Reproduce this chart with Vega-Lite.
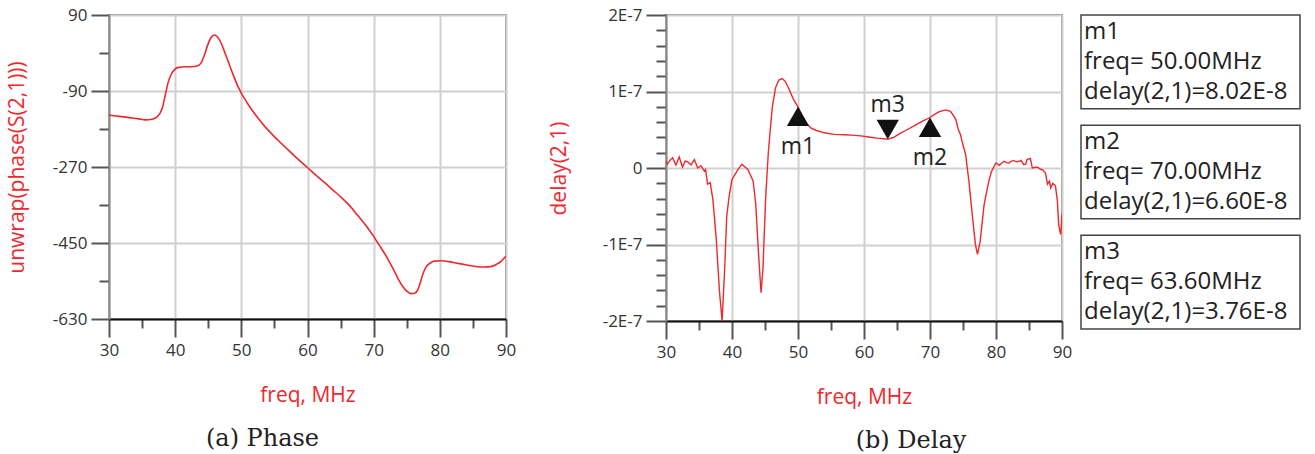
{
  "$schema": "https://vega.github.io/schema/vega-lite/v6.json",
  "background": "white",
  "padding": {"left": 5, "top": 5, "right": 5, "bottom": 5},
  "config": {
    "view": {"stroke": "#8a8a8a", "strokeWidth": 2},
    "font": "Open Sans",
    "axis": {
      "labelFont": "Open Sans", "labelColor": "#333", "labelFlush": false, "labelOverlap": false,
      "titleFont": "Open Sans", "titleFontWeight": "normal", "titleColor": "#f0282d", "titleFontSize": 21,
      "tickColor": "#555", "tickWidth": 2, "gridColor": "#d0d0d0", "gridWidth": 2
    }
  },
  "datasets": {
    "phase": [
      {"freq": 30, "phase": -147.5}, {"freq": 31.5, "phase": -150}, {"freq": 33, "phase": -153}, {"freq": 34.5, "phase": -156},
      {"freq": 35.5, "phase": -158.5}, {"freq": 36.5, "phase": -157}, {"freq": 37.2, "phase": -152}, {"freq": 37.7, "phase": -143},
      {"freq": 38.1, "phase": -128}, {"freq": 38.5, "phase": -100}, {"freq": 38.9, "phase": -72}, {"freq": 39.3, "phase": -54},
      {"freq": 39.8, "phase": -41}, {"freq": 40.5, "phase": -34}, {"freq": 41.5, "phase": -32.5}, {"freq": 42.5, "phase": -32.5},
      {"freq": 43.3, "phase": -31}, {"freq": 43.9, "phase": -24}, {"freq": 44.4, "phase": -6}, {"freq": 44.9, "phase": 18},
      {"freq": 45.4, "phase": 36}, {"freq": 45.9, "phase": 42.5}, {"freq": 46.4, "phase": 38}, {"freq": 47.0, "phase": 22},
      {"freq": 47.6, "phase": -3}, {"freq": 48.2, "phase": -28}, {"freq": 48.8, "phase": -53}, {"freq": 49.4, "phase": -76},
      {"freq": 50.1, "phase": -98}, {"freq": 50.8, "phase": -116}, {"freq": 51.6, "phase": -135}, {"freq": 52.6, "phase": -156},
      {"freq": 53.6, "phase": -175}, {"freq": 54.8, "phase": -195}, {"freq": 56.1, "phase": -215}, {"freq": 57.3, "phase": -233},
      {"freq": 58.6, "phase": -252}, {"freq": 60.1, "phase": -273}, {"freq": 61.3, "phase": -290}, {"freq": 62.6, "phase": -307},
      {"freq": 63.8, "phase": -324}, {"freq": 65.1, "phase": -342}, {"freq": 66.4, "phase": -362}, {"freq": 67.6, "phase": -385},
      {"freq": 68.8, "phase": -408}, {"freq": 69.9, "phase": -432}, {"freq": 70.8, "phase": -454}, {"freq": 71.7, "phase": -476},
      {"freq": 72.5, "phase": -498}, {"freq": 73.2, "phase": -519}, {"freq": 73.8, "phase": -538}, {"freq": 74.4, "phase": -553},
      {"freq": 75.0, "phase": -564}, {"freq": 75.7, "phase": -570}, {"freq": 76.2, "phase": -569}, {"freq": 76.7, "phase": -560},
      {"freq": 77.1, "phase": -541}, {"freq": 77.5, "phase": -521}, {"freq": 77.9, "phase": -507}, {"freq": 78.5, "phase": -498},
      {"freq": 79.2, "phase": -493}, {"freq": 80.2, "phase": -492}, {"freq": 82, "phase": -496}, {"freq": 83.7, "phase": -501},
      {"freq": 85.2, "phase": -505}, {"freq": 86.7, "phase": -507}, {"freq": 87.7, "phase": -506}, {"freq": 88.5, "phase": -501},
      {"freq": 89.3, "phase": -493}, {"freq": 90, "phase": -481}
    ],
    "delay": [
      {"freq": 30, "delay": 9e-9}, {"freq": 30.2, "delay": 5e-9}, {"freq": 30.6, "delay": 1.0e-8}, {"freq": 31.0, "delay": 1.35e-8},
      {"freq": 31.5, "delay": 4e-9}, {"freq": 32.0, "delay": 1.44e-8}, {"freq": 32.5, "delay": 1.3e-9}, {"freq": 32.9, "delay": 9e-9},
      {"freq": 33.3, "delay": 8e-9}, {"freq": 33.8, "delay": 4e-9}, {"freq": 34.3, "delay": 1.1e-8}, {"freq": 34.8, "delay": 0},
      {"freq": 35.3, "delay": 3e-9}, {"freq": 35.8, "delay": -4e-9}, {"freq": 36.0, "delay": -2e-9}, {"freq": 36.3, "delay": -2.1e-8},
      {"freq": 36.7, "delay": -1.9e-8}, {"freq": 37.1, "delay": -4.1e-8}, {"freq": 37.6, "delay": -9.1e-8}, {"freq": 38.1, "delay": -1.61e-7},
      {"freq": 38.5, "delay": -2.0e-7}, {"freq": 38.9, "delay": -1.3e-7}, {"freq": 39.2, "delay": -6.3e-8}, {"freq": 39.6, "delay": -3.5e-8},
      {"freq": 40.0, "delay": -1.5e-8}, {"freq": 40.9, "delay": -2e-9}, {"freq": 41.5, "delay": 5e-9}, {"freq": 42.4, "delay": -2e-9},
      {"freq": 43.2, "delay": -1.7e-8}, {"freq": 43.6, "delay": -4.7e-8}, {"freq": 44.0, "delay": -1.09e-7}, {"freq": 44.4, "delay": -1.63e-7},
      {"freq": 44.7, "delay": -1.3e-7}, {"freq": 45.1, "delay": -3.9e-8}, {"freq": 45.5, "delay": 2.0e-8}, {"freq": 45.9, "delay": 6.0e-8},
      {"freq": 46.1, "delay": 7.9e-8}, {"freq": 46.6, "delay": 1.05e-7}, {"freq": 47.1, "delay": 1.15e-7}, {"freq": 47.6, "delay": 1.17e-7},
      {"freq": 48.1, "delay": 1.13e-7}, {"freq": 48.7, "delay": 1.02e-7}, {"freq": 49.3, "delay": 9.0e-8}, {"freq": 50.0, "delay": 8.0e-8},
      {"freq": 50.7, "delay": 6.7e-8}, {"freq": 51.3, "delay": 5.8e-8}, {"freq": 52.0, "delay": 5.2e-8}, {"freq": 52.8, "delay": 4.9e-8},
      {"freq": 54.0, "delay": 4.6e-8}, {"freq": 55.5, "delay": 4.4e-8}, {"freq": 57.0, "delay": 4.35e-8}, {"freq": 58.1, "delay": 4.3e-8},
      {"freq": 59.5, "delay": 4.2e-8}, {"freq": 60.7, "delay": 4.05e-8}, {"freq": 62.0, "delay": 3.9e-8}, {"freq": 63.3, "delay": 3.8e-8},
      {"freq": 63.6, "delay": 3.76e-8}, {"freq": 64.5, "delay": 4.0e-8}, {"freq": 65.6, "delay": 4.6e-8}, {"freq": 66.5, "delay": 5.0e-8},
      {"freq": 67.6, "delay": 5.5e-8}, {"freq": 68.8, "delay": 6.1e-8}, {"freq": 70.0, "delay": 6.6e-8}, {"freq": 70.7, "delay": 7.0e-8},
      {"freq": 71.4, "delay": 7.37e-8}, {"freq": 72.4, "delay": 7.6e-8}, {"freq": 73.1, "delay": 7.4e-8}, {"freq": 73.6, "delay": 6.8e-8},
      {"freq": 73.9, "delay": 6.36e-8}, {"freq": 74.3, "delay": 5.0e-8}, {"freq": 74.6, "delay": 4.4e-8}, {"freq": 75.0, "delay": 3.0e-8},
      {"freq": 75.4, "delay": 1.75e-8}, {"freq": 75.9, "delay": -1.75e-8}, {"freq": 76.4, "delay": -6.1e-8}, {"freq": 76.9, "delay": -1.01e-7},
      {"freq": 77.2, "delay": -1.13e-7}, {"freq": 77.6, "delay": -9.6e-8}, {"freq": 78.2, "delay": -4.8e-8}, {"freq": 78.9, "delay": -1.75e-8},
      {"freq": 79.3, "delay": -5e-9}, {"freq": 79.7, "delay": 2e-9}, {"freq": 80.0, "delay": 6.6e-9}, {"freq": 80.5, "delay": 3.5e-9},
      {"freq": 80.8, "delay": 6e-9}, {"freq": 81.2, "delay": 8.8e-9}, {"freq": 81.6, "delay": 7e-9}, {"freq": 82.0, "delay": 6.6e-9},
      {"freq": 82.3, "delay": 9e-9}, {"freq": 82.7, "delay": 9.6e-9}, {"freq": 83.1, "delay": 8e-9}, {"freq": 83.5, "delay": 8.8e-9},
      {"freq": 83.8, "delay": 1.0e-8}, {"freq": 84.2, "delay": 4.4e-9}, {"freq": 84.5, "delay": 5e-9}, {"freq": 84.7, "delay": 1.1e-8},
      {"freq": 85.2, "delay": 1.25e-8}, {"freq": 85.5, "delay": 0}, {"freq": 86.0, "delay": 1e-9}, {"freq": 86.3, "delay": 1e-9},
      {"freq": 86.8, "delay": -2e-9}, {"freq": 87.0, "delay": -2e-9}, {"freq": 87.5, "delay": -6.6e-9}, {"freq": 87.8, "delay": -2.1e-8},
      {"freq": 88.1, "delay": -1.7e-8}, {"freq": 88.3, "delay": -2.6e-8}, {"freq": 88.6, "delay": -2.0e-8}, {"freq": 89.0, "delay": -2.3e-8},
      {"freq": 89.3, "delay": -4.3e-8}, {"freq": 89.5, "delay": -7.45e-8}, {"freq": 89.8, "delay": -8.7e-8}, {"freq": 90.0, "delay": -6.0e-8}
    ],
    "markers": [
      {"marker": "m1", "freq": 50.0, "delay": 8.02e-8, "dir": "up", "info": "m1\nfreq= 50.00MHz\ndelay(2,1)=8.02E-8"},
      {"marker": "m2", "freq": 70.0, "delay": 6.60e-8, "dir": "up", "info": "m2\nfreq= 70.00MHz\ndelay(2,1)=6.60E-8"},
      {"marker": "m3", "freq": 63.6, "delay": 3.76e-8, "dir": "down", "info": "m3\nfreq= 63.60MHz\ndelay(2,1)=3.76E-8"}
    ]
  },
  "spacing": 30,
  "hconcat": [
    {
      "width": 397,
      "height": 304,
      "title": {"text": "(a) Phase", "orient": "bottom", "anchor": "middle", "frame": "group", "dx": -45, "offset": 22, "font": "DejaVu Serif", "fontSize": 24, "fontWeight": "normal", "color": "#222"},
      "data": {"name": "phase"},
      "mark": {"type": "line", "color": "#f0282d", "strokeWidth": 1.6, "interpolate": "monotone", "clip": true},
      "encoding": {
        "x": {
          "field": "freq", "type": "quantitative",
          "scale": {"domain": [30, 90], "nice": false, "zero": false},
          "axis": {
            "title": "freq, MHz", "titlePadding": 26,
            "values": [30, 35, 40, 45, 50, 55, 60, 65, 70, 75, 80, 85, 90],
            "labelExpr": "datum.value % 10 === 0 ? toString(datum.value) : ''",
            "labelFontSize": 17, "labelPadding": 5,
            "tickSize": {"condition": {"test": "datum.value % 10 === 0", "value": 18}, "value": 9},
            "domainColor": "#111", "domainWidth": 2,
            "gridOpacity": {"condition": {"test": "datum.value % 10 === 0", "value": 1}, "value": 0}
          }
        },
        "y": {
          "field": "phase", "type": "quantitative",
          "scale": {"domain": [-630, 90], "nice": false, "zero": false},
          "axis": {
            "title": "unwrap(phase(S(2,1)))", "titlePadding": 25,
            "values": [90, 0, -90, -180, -270, -360, -450, -540, -630],
            "labelExpr": "(datum.value + 630) % 180 === 0 ? toString(datum.value) : ''",
            "labelFontSize": 17, "labelPadding": 4,
            "tickSize": {"condition": {"test": "(datum.value + 630) % 180 === 0", "value": 18}, "value": 10},
            "domainColor": "#8a8a8a", "domainWidth": 2,
            "gridOpacity": {"condition": {"test": "(datum.value + 630) % 180 === 0", "value": 1}, "value": 0}
          }
        }
      }
    },
    {
      "spacing": 7,
      "hconcat": [
        {
          "width": 396,
          "height": 306,
          "title": {"text": "(b) Delay", "orient": "bottom", "anchor": "middle", "frame": "group", "dx": 47, "offset": 22, "font": "DejaVu Serif", "fontSize": 24, "fontWeight": "normal", "color": "#222"},
          "encoding": {
            "x": {
              "field": "freq", "type": "quantitative",
              "scale": {"domain": [30, 90], "nice": false, "zero": false},
              "axis": {
                "title": "freq, MHz", "titlePadding": 26,
                "values": [30, 35, 40, 45, 50, 55, 60, 65, 70, 75, 80, 85, 90],
                "labelExpr": "datum.value % 10 === 0 ? toString(datum.value) : ''",
                "labelFontSize": 17, "labelPadding": 5,
                "tickSize": {"condition": {"test": "datum.value % 10 === 0", "value": 18}, "value": 9},
                "domainColor": "#111", "domainWidth": 2,
                "gridOpacity": {"condition": {"test": "datum.value % 10 === 0", "value": 1}, "value": 0}
              }
            },
            "y": {
              "field": "delay", "type": "quantitative",
              "scale": {"domain": [-2e-7, 2e-7], "nice": false, "zero": false},
              "axis": {
                "title": "delay(2,1)", "titlePadding": 33,
                "values": [-2e-7, -1.8e-7, -1.6e-7, -1.4e-7, -1.2e-7, -1e-7, -8e-8, -6e-8, -4e-8, -2e-8, 0, 2e-8, 4e-8, 6e-8, 8e-8, 1e-7, 1.2e-7, 1.4e-7, 1.6e-7, 1.8e-7, 2e-7],
                "labelExpr": "abs(datum.value*1e7 - round(datum.value*1e7)) < 0.01 ? (round(datum.value*1e7) === 0 ? '0' : toString(round(datum.value*1e7)) + 'E-7') : ''",
                "labelFontSize": 17, "labelPadding": 4,
                "tickSize": {"condition": {"test": "abs(datum.value*1e7 - round(datum.value*1e7)) < 0.01", "value": 20}, "value": 10},
                "domainColor": "#8a8a8a", "domainWidth": 2,
                "gridOpacity": {"condition": {"test": "abs(datum.value*1e7 - round(datum.value*1e7)) < 0.01", "value": 1}, "value": 0}
              }
            }
          },
          "layer": [
            {
              "data": {"name": "delay"},
              "mark": {"type": "line", "color": "#f0282d", "strokeWidth": 1.4, "clip": true}
            },
            {
              "data": {"name": "markers"},
              "transform": [{"filter": "datum.dir === 'up'"}],
              "mark": {"type": "point", "shape": "triangle-up", "filled": true, "size": 500, "color": "#111", "opacity": 1, "yOffset": 9.7}
            },
            {
              "data": {"name": "markers"},
              "transform": [{"filter": "datum.dir === 'down'"}],
              "mark": {"type": "point", "shape": "triangle-down", "filled": true, "size": 500, "color": "#111", "opacity": 1, "yOffset": -9.7}
            },
            {
              "data": {"name": "markers"},
              "transform": [{"filter": "datum.dir === 'up'"}],
              "mark": {"type": "text", "baseline": "top", "dy": 29, "font": "Open Sans", "fontSize": 23, "color": "#222"},
              "encoding": {"text": {"field": "marker"}}
            },
            {
              "data": {"name": "markers"},
              "transform": [{"filter": "datum.dir === 'down'"}],
              "mark": {"type": "text", "baseline": "alphabetic", "dy": -27, "font": "Open Sans", "fontSize": 23, "color": "#222"},
              "encoding": {"text": {"field": "marker"}}
            }
          ]
        },
        {
          "width": 219,
          "height": 314,
          "view": {"stroke": null},
          "data": {"name": "markers"},
          "encoding": {
            "y": {"field": "marker", "type": "nominal", "scale": {"paddingInner": 0.15, "paddingOuter": 0}, "axis": null}
          },
          "layer": [
            {
              "mark": {"type": "rect", "fill": "white", "stroke": "#444", "strokeWidth": 1.5},
              "encoding": {
                "x": {"datum": 0, "type": "quantitative", "scale": {"domain": [0, 1], "nice": false}, "axis": null},
                "x2": {"datum": 1}
              }
            },
            {
              "mark": {"type": "text", "align": "left", "baseline": "middle", "lineBreak": "\n", "lineHeight": 30, "dx": 3, "dy": -30, "font": "Open Sans", "fontSize": 24, "color": "#222"},
              "encoding": {
                "x": {"datum": 0, "type": "quantitative", "scale": {"domain": [0, 1], "nice": false}, "axis": null},
                "text": {"field": "info"}
              }
            }
          ]
        }
      ]
    }
  ]
}
